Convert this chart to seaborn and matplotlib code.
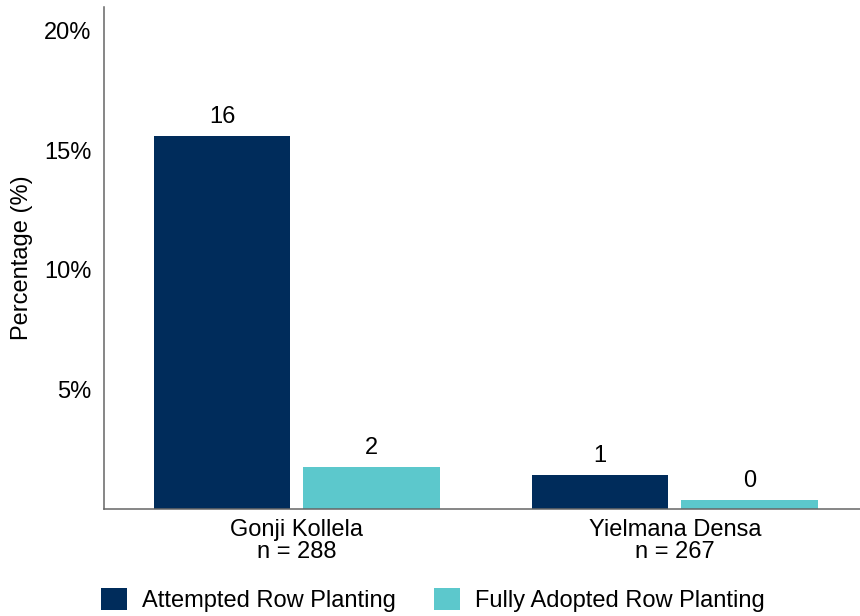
import pandas as pd
import seaborn as sns
import matplotlib.pyplot as plt
from matplotlib.ticker import FuncFormatter

# values (percent of households)
villages = ["Gonji Kollela\nn = 288", "Yielmana Densa\nn = 267"]
series = ["Attempted Row Planting", "Fully Adopted Row Planting"]
attempted = [15.6, 1.42]
fully = [1.74, 0.37]
colors = ["#002c5b", "#5cc8cc"]

df = pd.DataFrame({
    "village": villages * 2,
    "type": [series[0]] * 2 + [series[1]] * 2,
    "pct": attempted + fully,
})

sns.set_style("white")
plt.rcParams["font.family"] = ["Liberation Sans", "DejaVu Sans"]
plt.rcParams["text.color"] = "black"
plt.rcParams["axes.labelcolor"] = "black"
plt.rcParams["xtick.color"] = "black"
plt.rcParams["ytick.color"] = "black"

fig = plt.figure(figsize=(8.6, 6.16), dpi=100)
ax = fig.add_axes([104 / 860, 107 / 616, 756 / 860, 502 / 616])

sns.barplot(data=df, x="village", y="pct", hue="type", palette=colors,
            width=0.79, gap=0.086, linewidth=0, saturation=1, ax=ax,
            legend=True)

for c in ax.containers:
    ax.bar_label(c, labels=[f"{v:.0f}" for v in c.datavalues],
                 padding=6, fontsize=17, color="black")

ax.set_ylim(0, 21)
ax.set_xlim(-0.51, 1.49)
ax.set_yticks([5, 10, 15, 20])
ax.yaxis.set_major_formatter(FuncFormatter(lambda v, p: f"{v:.0f}%"))
ax.set_xlabel("")
ax.set_ylabel("Percentage (%)", fontsize=17, labelpad=8)
ax.tick_params(axis="both", length=0, labelsize=17)
ax.tick_params(axis="y", pad=9)
ax.tick_params(axis="x", pad=7)
for lab in ax.get_xticklabels():
    lab.set_linespacing(1.0)

sns.despine(ax=ax)
for s in ["left", "bottom"]:
    ax.spines[s].set_color("#666666")
    ax.spines[s].set_linewidth(1.1)

handles, labels = ax.get_legend_handles_labels()
ax.get_legend().remove()
fig.legend(handles, labels, loc="center left", ncol=2,
           bbox_to_anchor=(101 / 860, 16 / 616), frameon=False,
           fontsize=17, handlelength=1.1, handleheight=1.05,
           handletextpad=0.65, columnspacing=1.6,
           borderpad=0, borderaxespad=0)

fig.savefig("out.png", dpi=100)
